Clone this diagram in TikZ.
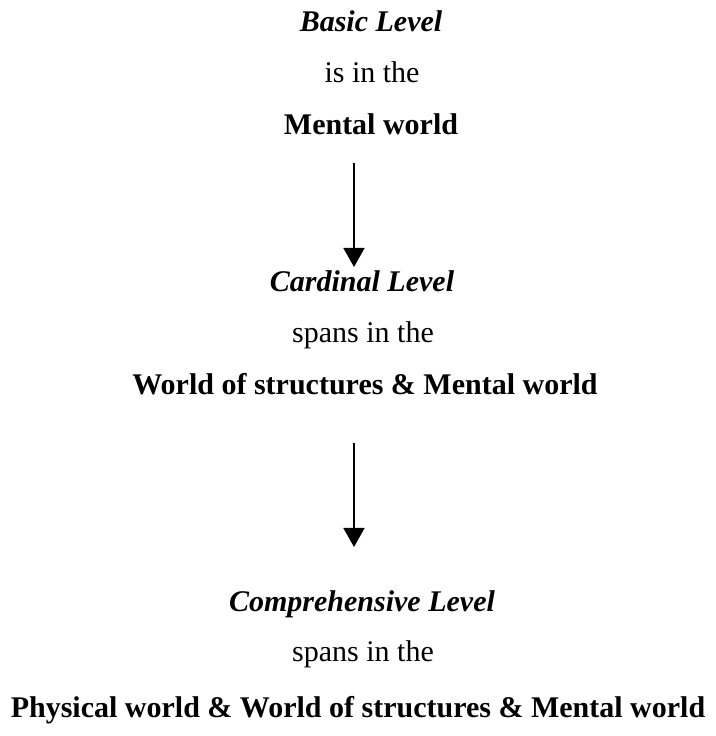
\documentclass[tikz,border=0pt]{standalone}
\usepackage{fontspec}
\setmainfont{Liberation Serif}
\usetikzlibrary{arrows.meta}
\begin{document}
\begin{tikzpicture}[x=1pt,y=1pt,
  txt/.style={anchor=base,inner sep=0pt,font=\fontsize{30}{36}\selectfont},
  lvl/.style={txt,font=\fontsize{30}{36}\selectfont\bfseries\itshape},
  wld/.style={txt,font=\fontsize{30}{36}\selectfont\bfseries},
  arr/.style={-{Triangle[length=19pt,width=21pt]},line width=1.6pt}]
\useasboundingbox (0,0) rectangle (715,736);
\node[lvl] (basic) at (371,704) {Basic Level};
\node[txt] (isin) at (372,653) {is in the};
\node[wld] (mental) at (371,601) {Mental world};
\node[lvl] (cardinal) at (362,444) {Cardinal Level};
\node[txt] (spans1) at (363,393) {spans in the};
\node[wld] (world2) at (365,341) {World of structures \& Mental world};
\node[lvl] (compr) at (362,124) {Comprehensive Level};
\node[txt] (spans2) at (363,74) {spans in the};
\node[wld] (world3) at (358,18) {Physical world \& World of structures \& Mental world};
\coordinate (a1s) at (354,573);
\coordinate (a1e) at (354,469);
\coordinate (a2s) at (354,293);
\coordinate (a2e) at (354,189);
\draw[arr] (a1s) -- (a1e);
\draw[arr] (a2s) -- (a2e);
\end{tikzpicture}
\end{document}
